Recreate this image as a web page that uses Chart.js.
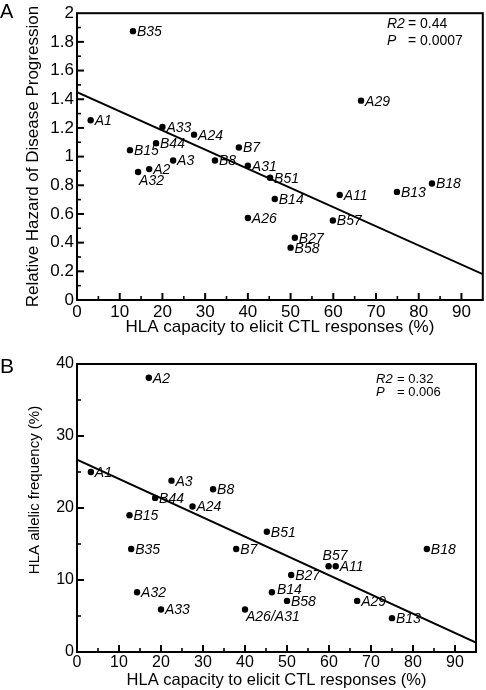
<!DOCTYPE html>
<html><head><meta charset="utf-8">
<script src="https://cdn.jsdelivr.net/npm/chart.js@4/dist/chart.umd.min.js"></script>
<style>
html,body{margin:0;padding:0;background:#fff;}
#wrap{position:relative;width:486px;height:690px;}
canvas{position:absolute;left:0;}
#cA{top:0}
#cB{top:345px}
</style></head><body>
<div id="wrap">
<canvas id="cA" width="486" height="345"></canvas>
<canvas id="cB" width="486" height="345"></canvas>
</div>
<script>
// ---------- Panel A data ----------
const allelesA = ['B35','A29','A1','A33','A24','B44','B15','B7','A3','B8','A31','A2','A32','B51','B14','A26','A11','B13','B18','B57','B27','B58'];
const ctlA     = [13.1, 66.5, 3.2, 20.0, 27.4, 18.5, 12.4, 37.9, 22.5, 32.3, 40.0, 16.9, 14.3, 45.2, 46.3, 40.0, 61.5, 74.9, 83.1, 59.9, 51.0, 50.0];
const hazardA  = [1.875,1.39,1.253,1.206,1.153,1.093,1.045,1.063,0.973,0.973,0.936,0.913,0.893,0.853,0.704,0.572,0.733,0.754,0.812,0.554,0.434,0.365];
const fitXA = [0, 95];
const fitYA = [1.45, 0.18];
const statsA = ['R2', '= 0.44', 'P', '= 0.0007'];

// ---------- Panel B data ----------
const allelesB = ['A2','A1','A3','B8','B44','A24','B15','B35','B7','A32','A33','A26/A31','B51','B18','B57','A11','B27','B14','B58','A29','B13'];
const ctlB     = [17.1, 3.3, 22.5, 32.4, 18.6, 27.5, 12.5, 12.9, 37.9, 14.3, 20.0, 40.0, 45.2, 83.3, 59.9, 61.6, 51.0, 46.4, 50.0, 66.7, 75.0];
const freqB    = [38.1, 25.0, 23.8, 22.6, 21.4, 20.2, 19.0, 14.3, 14.3, 8.3, 5.9, 5.9, 16.7, 14.3, 11.9, 11.9, 10.7, 8.3, 7.1, 7.1, 4.7];
const fitXB = [0, 95];
const fitYB = [26.7, 1.3];
const statsB = ['R2', '= 0.32', 'P', '= 0.006'];

const FONT = "'Liberation Sans', Arial, Helvetica, sans-serif";

// label offsets (style, not data)
const offA = { 'A32': [1, 9] };
const offB = { 'B57': [-6, -10], 'A26/A31': [1, 8], 'B14': [5, -2] };

const inTicks = {
  id: 'inTicks',
  afterDatasetsDraw(chart, args, o) {
    const {ctx, chartArea: a, scales: {x, y}} = chart;
    ctx.save();
    ctx.strokeStyle = '#000';
    const nx = Math.round(x.max / o.xMinor);
    for (let i = 1; i < nx; i++) {
      const v = i * o.xMinor;
      const major = i % o.xRatio === 0;
      const px = x.getPixelForValue(v);
      ctx.lineWidth = major ? 2 : 1.6;
      ctx.beginPath();
      ctx.moveTo(px, a.bottom);
      ctx.lineTo(px, a.bottom - (major ? 7 : 4));
      ctx.stroke();
    }
    const ny = Math.round(y.max / o.yMinor);
    for (let i = 1; i < ny; i++) {
      const v = i * o.yMinor;
      const major = i % o.yRatio === 0;
      const py = y.getPixelForValue(v);
      ctx.lineWidth = major ? 2 : 1.6;
      ctx.beginPath();
      ctx.moveTo(a.left, py);
      ctx.lineTo(a.left + (major ? 7 : 4), py);
      ctx.stroke();
    }
    ctx.lineWidth = 2;
    ctx.strokeRect(a.left, a.top, a.right - a.left, a.bottom - a.top);
    ctx.restore();
  }
};

const texts = {
  id: 'texts',
  afterDraw(chart, args, o) {
    const {ctx} = chart;
    ctx.save();
    ctx.fillStyle = '#000';
    const meta = chart.getDatasetMeta(0);
    const labels = chart.data.datasets[0].pointLabels;
    ctx.font = 'italic ' + o.labelSize + 'px ' + FONT;
    ctx.textAlign = 'left';
    ctx.textBaseline = 'middle';
    meta.data.forEach((pt, i) => {
      const lab = labels[i];
      const off = o.offsets[lab] || [4, 1];
      ctx.fillText(lab, pt.x + off[0], pt.y + off[1]);
    });
    const s = o.stats;
    ctx.font = 'italic ' + o.statSize + 'px ' + FONT;
    ctx.fillText(s.text[0], s.x1, s.y1);
    ctx.fillText(s.text[2], s.x1, s.y2);
    ctx.font = o.statSize + 'px ' + FONT;
    ctx.fillText(s.text[1], s.x2, s.y1);
    ctx.fillText(s.text[3], s.x2, s.y2);
    ctx.font = o.panelSize + 'px ' + FONT;
    ctx.textBaseline = 'alphabetic';
    ctx.fillText(o.panel, 0, o.panelY);
    if (o.yTitle) {
      ctx.translate(o.yTitle.x, o.yTitle.y);
      ctx.rotate(-Math.PI / 2);
      ctx.font = o.yTitle.size + 'px ' + FONT;
      ctx.textAlign = 'center';
      ctx.textBaseline = 'middle';
      ctx.fillText(o.yTitle.text, 0, 0);
    }
    ctx.restore();
  }
};

function build(id, cfg) {
  const pts = cfg.xs.map((v, i) => ({x: v, y: cfg.ys[i]}));
  const fit = cfg.fx.map((v, i) => ({x: v, y: cfg.fy[i]}));
  return new Chart(document.getElementById(id), {
    type: 'scatter',
    data: {
      datasets: [
        {data: pts, pointLabels: cfg.labels, pointRadius: 3.2, pointHoverRadius: 3.2,
         backgroundColor: '#000', borderWidth: 0},
        {data: fit, showLine: true, borderColor: '#000', borderWidth: 2, pointRadius: 0, fill: false}
      ]
    },
    options: {
      responsive: false, animation: false, devicePixelRatio: 1,
      events: [],
      layout: {padding: {left: 0, right: cfg.padR, top: cfg.padT, bottom: 0}},
      plugins: {
        legend: {display: false}, tooltip: {enabled: false},
        inTicks: cfg.ticks,
        texts: cfg.texts
      },
      scales: {
        x: {
          type: 'linear', min: 0, max: 95,
          grid: {display: false, drawTicks: false},
          border: {display: false},
          ticks: {stepSize: 10, includeBounds: false, autoSkip: false, maxRotation: 0,
                  color: '#000', font: {family: FONT, size: cfg.tickSize}, padding: cfg.xTickPad},
          title: {display: true, text: 'HLA capacity to elicit CTL responses (%)', color: '#000',
                  font: {family: FONT, size: cfg.xTitleSize}, padding: {top: 0, bottom: cfg.xTitlePad}},
          afterFit: s => { s.height = cfg.xH; }
        },
        y: {
          type: 'linear', min: 0, max: cfg.ymax,
          grid: {display: false, drawTicks: false},
          border: {display: false},
          ticks: {stepSize: cfg.ystep, includeBounds: false, autoSkip: false,
                  color: '#000', font: {family: FONT, size: cfg.tickSize}, padding: 3,
                  callback: v => String(Math.round(v * 10) / 10)},
          title: cfg.yTitle,
          afterFit: s => { s.width = 77; }
        }
      }
    },
    plugins: [inTicks, texts]
  });
}

build('cA', {
  xs: ctlA, ys: hazardA, labels: allelesA, fx: fitXA, fy: fitYA,
  padR: 2, padT: 11, xH: 45, ymax: 2, ystep: 0.2, tickSize: 17, xTickPad: 2,
  xTitleSize: 17, xTitlePad: 7,
  yTitle: {display: true, text: 'Relative Hazard of Disease Progression', color: '#000',
           font: {family: FONT, size: 17}, padding: {top: 23, bottom: 0}},
  ticks: {xMinor: 5, xRatio: 2, yMinor: 0.1, yRatio: 2},
  texts: {labelSize: 14, offsets: offA, statSize: 14,
          stats: {text: statsA, x1: 387, x2: 408, y1: 24, y2: 41},
          panel: 'A', panelSize: 20, panelY: 18}
});

build('cB', {
  xs: ctlB, ys: freqB, labels: allelesB, fx: fitXB, fy: fitYB,
  padR: 10, padT: 19, xH: 38, ymax: 40, ystep: 10, tickSize: 16, xTickPad: 1,
  xTitleSize: 16.5, xTitlePad: 0,
  yTitle: {display: false},
  ticks: {xMinor: 5, xRatio: 2, yMinor: 5, yRatio: 2},
  texts: {labelSize: 14, offsets: offB, statSize: 13,
          stats: {text: statsB, x1: 376, x2: 397, y1: 34, y2: 47},
          panel: 'B', panelSize: 21, panelY: 28,
          yTitle: {text: 'HLA allelic frequency (%)', x: 34.5, y: 145, size: 15}}
});
</script>
</body></html>
